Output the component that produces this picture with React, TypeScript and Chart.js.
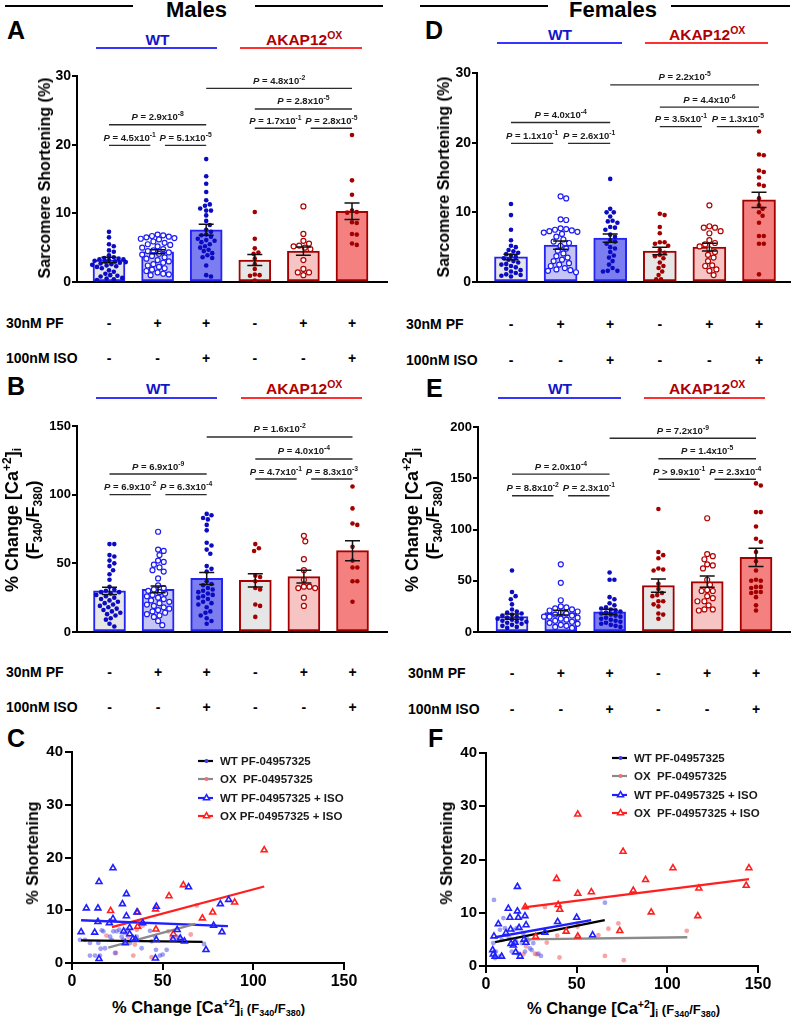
import React, { useEffect, useRef } from 'react';
import { Chart, registerables } from 'chart.js';

Chart.register(...registerables);

const FONT = "'Liberation Sans', Arial, Helvetica, sans-serif";
Chart.defaults.font.family = FONT;
Chart.defaults.color = '#000';

// ---------------- categories / treatment rows ----------------
const GROUPS = ['WT', 'WT PF', 'WT PF+ISO', 'OX', 'OX PF', 'OX PF+ISO'];
const PF_ROW = ['-', '+', '+', '-', '+', '+'];
const ISO_ROW = ['-', '-', '+', '-', '-', '+'];

// ---------------- Panel A: Males, sarcomere shortening (%) ----------------
const A_MEANS = [3.2, 4.4, 7.6, 3.2, 4.5, 10.3];
const A_SEMS = [0.4, 0.3, 0.8, 0.8, 0.6, 1.2];
const A_WT = [7.3, 6.5, 5.5, 5.2, 4.6, 4.4, 3.9, 3.6, 3.5, 3.4, 3.3, 3.3, 3.2, 3.1, 3.0, 3.0, 2.9, 2.8, 2.7, 2.6, 2.5, 2.4, 2.3, 2.2, 2.0, 1.7, 1.5, 1.2, 1.0, 0.9, 0.8, 0.6, 0.5, 0.4, 0.3];
const A_WT_PF = [6.9, 6.8, 6.7, 6.6, 6.5, 6.4, 6.3, 6.2, 5.9, 5.7, 5.5, 5.4, 5.2, 5.0, 4.8, 4.6, 4.5, 4.3, 4.1, 4.0, 3.8, 3.6, 3.4, 3.2, 3.0, 2.8, 2.6, 2.4, 2.2, 2.0, 1.8, 1.6, 1.4, 1.2, 1.1, 1.0];
const A_WT_ISO = [17.9, 15.4, 14.3, 13.1, 11.9, 11.3, 11.1, 10.7, 10.4, 10.4, 9.7, 8.9, 8.3, 7.6, 7.3, 6.9, 6.8, 6.6, 6.3, 6.1, 6.0, 5.8, 5.5, 5.2, 5.0, 4.7, 4.5, 4.2, 3.9, 3.6, 3.5, 2.4, 1.0, 0.8];
const A_OX = [10.2, 6.3, 4.9, 4.3, 4.1, 3.4, 2.6, 1.9, 1.1, 1.0, 0.9, 0.2];
const A_OX_PF = [11.0, 7.0, 6.0, 5.6, 5.3, 5.2, 5.0, 4.8, 3.2, 1.9, 1.4, 1.4, 1.0];
const A_OX_ISO = [21.4, 14.8, 12.7, 10.4, 10.2, 10.1, 8.7, 8.6, 7.0, 6.9, 5.6, 5.4];

// ---------------- Panel B: Males, % change [Ca2+]i ----------------
const B_MEANS = [29.9, 31.0, 39.0, 37.6, 40.3, 59.2];
const B_SEMS = [2.6, 2.5, 4.4, 4.8, 4.6, 7.3];
const B_WT = [64, 64, 56, 55, 52, 50, 48, 45, 42, 38, 33, 31, 30, 29, 29, 28, 27, 26, 25, 24, 23, 22, 21, 20, 19, 18, 17, 16, 15, 14, 13, 12, 10, 9, 6, 4];
const B_WT_PF = [73, 60, 59, 56, 52, 51, 49, 47, 45, 44, 39, 34, 32, 31, 30, 29, 28, 27, 26, 25, 24, 23, 22, 21, 20, 19, 18, 17, 16, 15, 14, 13, 12, 11, 8, 5];
const B_WT_ISO = [86, 85, 83, 82, 78, 74, 65, 63, 60, 57, 48, 46, 44, 37, 35, 34, 32, 31, 30, 29, 28, 27, 26, 25, 24, 22, 21, 20, 18, 15, 14, 12, 10, 8, 6];
const B_OX = [64, 61, 59, 41, 40, 37, 32, 31, 20, 19, 11];
const B_OX_PF = [70, 66, 53, 45, 38, 33, 33, 32, 32, 25, 19];
const B_OX_ISO = [106, 90, 79, 78, 62, 52, 47, 47, 37, 37, 22];

// ---------------- Panel D: Females, sarcomere shortening (%) ----------------
const D_MEANS = [3.6, 5.3, 6.3, 4.45, 5.0, 11.8];
const D_SEMS = [0.4, 0.6, 0.6, 0.55, 0.55, 1.1];
const D_WT = [11.2, 9.6, 7.5, 6.0, 5.2, 5.0, 4.6, 4.4, 4.2, 4.0, 3.8, 3.6, 3.4, 3.2, 3.0, 2.8, 2.6, 2.5, 2.3, 2.1, 1.9, 1.7, 1.5, 1.3, 1.1, 1.0, 0.9, 0.8];
const D_WT_PF = [12.3, 12.0, 9.0, 8.9, 7.7, 7.6, 7.5, 7.4, 7.3, 7.2, 7.1, 6.9, 6.5, 6.1, 5.8, 5.6, 5.2, 4.8, 4.5, 4.1, 3.7, 3.5, 3.2, 3.0, 2.7, 2.5, 2.3, 2.0, 1.8, 1.7, 1.6, 1.4];
const D_WT_ISO = [14.8, 10.5, 10.0, 10.0, 9.4, 8.8, 8.7, 8.5, 7.9, 7.8, 7.5, 6.8, 6.5, 6.0, 5.8, 5.5, 5.0, 4.8, 4.3, 3.8, 3.5, 3.0, 2.5, 2.0, 1.6, 1.6, 1.5];
const D_OX = [9.8, 9.6, 7.9, 7.0, 5.7, 5.7, 5.5, 5.2, 4.6, 4.2, 3.9, 3.7, 3.4, 2.8, 2.3, 2.0, 1.5, 1.0, 0.4, 0.4];
const D_OX_PF = [11.0, 8.0, 7.8, 7.8, 7.3, 7.0, 6.0, 5.6, 5.4, 5.1, 4.7, 4.3, 3.9, 3.5, 3.0, 2.4, 2.3, 1.8, 1.6, 1.0];
const D_OX_ISO = [21.6, 18.3, 18.2, 16.0, 15.8, 15.0, 14.0, 13.8, 12.0, 11.0, 10.5, 10.0, 9.5, 8.5, 6.6, 6.6, 5.5, 5.5, 1.1];

// ---------------- Panel E: Females, % change [Ca2+]i ----------------
const E_MEANS = [15.0, 18.9, 19.8, 45.2, 49.1, 72.8];
const E_SEMS = [2.6, 2.2, 2.5, 6.5, 5.5, 8.8];
const E_WT = [60, 39, 35, 32, 27, 22, 20, 19, 18, 17, 16, 15, 14, 13, 13, 12, 11, 10, 10, 9, 8, 7, 6, 5, 4];
const E_WT_PF = [66, 48, 31, 25, 24, 23, 22, 21, 20, 19, 18, 17, 16, 15, 15, 14, 13, 12, 11, 10, 9, 8, 7, 6, 5, 4];
const E_WT_ISO = [58, 51, 51, 34, 32, 28, 26, 24, 23, 22, 21, 20, 19, 18, 17, 16, 15, 14, 13, 12, 11, 10, 9, 8, 7, 6, 5];
const E_OX = [120, 78, 75, 72, 62, 61, 60, 47, 42, 38, 36, 35, 30, 30, 27, 25, 18, 17, 13];
const E_OX_PF = [111, 76, 74, 71, 66, 65, 62, 51, 46, 41, 40, 40, 35, 33, 30, 30, 26, 22, 22, 21];
const E_OX_ISO = [145, 143, 117, 117, 103, 91, 88, 78, 69, 60, 51, 50, 50, 44, 44, 43, 39, 39, 38, 34, 26, 21];

// ---------------- significance brackets ----------------
type Bracket = { from: number; to: number; y: number; op: string; mant: string; exp: string; trim?: 'L' | 'R' };
const A_BRACKETS: Bracket[] = [
  { from: 2, to: 5, y: 28.2, op: '=', mant: '4.8', exp: '-2' },
  { from: 3, to: 5, y: 25.2, op: '=', mant: '2.8', exp: '-5' },
  { from: 3, to: 4, y: 22.4, op: '=', mant: '1.7', exp: '-1', trim: 'R' },
  { from: 4, to: 5, y: 22.4, op: '=', mant: '2.8', exp: '-5', trim: 'L' },
  { from: 0, to: 2, y: 22.9, op: '=', mant: '2.9', exp: '-8' },
  { from: 0, to: 1, y: 19.9, op: '=', mant: '4.5', exp: '-1', trim: 'R' },
  { from: 1, to: 2, y: 19.9, op: '=', mant: '5.1', exp: '-5', trim: 'L' },
];
const B_BRACKETS: Bracket[] = [
  { from: 2, to: 5, y: 142, op: '=', mant: '1.6', exp: '-2' },
  { from: 3, to: 5, y: 126, op: '=', mant: '4.0', exp: '-4' },
  { from: 3, to: 4, y: 111.4, op: '=', mant: '4.7', exp: '-1', trim: 'R' },
  { from: 4, to: 5, y: 111.4, op: '=', mant: '8.3', exp: '-3', trim: 'L' },
  { from: 0, to: 2, y: 115, op: '=', mant: '6.9', exp: '-9' },
  { from: 0, to: 1, y: 100, op: '=', mant: '6.9', exp: '-2', trim: 'R' },
  { from: 1, to: 2, y: 100, op: '=', mant: '6.3', exp: '-4', trim: 'L' },
];
const D_BRACKETS: Bracket[] = [
  { from: 2, to: 5, y: 28.3, op: '=', mant: '2.2', exp: '-5' },
  { from: 3, to: 5, y: 25.1, op: '=', mant: '4.4', exp: '-6' },
  { from: 3, to: 4, y: 22.3, op: '=', mant: '3.5', exp: '-1', trim: 'R' },
  { from: 4, to: 5, y: 22.3, op: '=', mant: '1.3', exp: '-5', trim: 'L' },
  { from: 0, to: 2, y: 22.9, op: '=', mant: '4.0', exp: '-4' },
  { from: 0, to: 1, y: 19.9, op: '=', mant: '1.1', exp: '-1', trim: 'R' },
  { from: 1, to: 2, y: 19.9, op: '=', mant: '2.6', exp: '-1', trim: 'L' },
];
const E_BRACKETS: Bracket[] = [
  { from: 2, to: 5, y: 189, op: '=', mant: '7.2', exp: '-9' },
  { from: 3, to: 5, y: 169, op: '=', mant: '1.4', exp: '-5' },
  { from: 3, to: 4, y: 149, op: '>', mant: '9.9', exp: '-1', trim: 'R' },
  { from: 4, to: 5, y: 149, op: '=', mant: '2.3', exp: '-4', trim: 'L' },
  { from: 0, to: 2, y: 154, op: '=', mant: '2.0', exp: '-4' },
  { from: 0, to: 1, y: 133, op: '=', mant: '8.8', exp: '-2', trim: 'R' },
  { from: 1, to: 2, y: 133, op: '=', mant: '2.3', exp: '-1', trim: 'L' },
];

// ---------------- Panel C: Males, shortening vs Ca ----------------
type XY = [number, number];
const C_WT_PF: XY[] = [[4.4, 4.4], [7.2, 4.4], [9.9, 3.8], [9.9, 1.4], [12.7, 1.4], [15.4, 1.4], [15.8, 2.7], [14.5, 3.8], [16.4, 6.2], [17.3, 6.0], [18.2, 2.8], [21, 5.0], [21.9, 4.4], [22.8, 6.0], [23.7, 1.9], [24.6, 6.0], [26.1, 6.3], [27.4, 5.0], [28.3, 4.4], [29.2, 5.7], [30.5, 6.3], [32, 3.8], [34.7, 4.4], [35.7, 5.0], [38.4, 2.8], [43, 6.1], [43.9, 4.1], [45.8, 5.0], [46.3, 2.5], [48.5, 1.4], [50, 1.6], [52.2, 2.5], [57.7, 5.0], [59.6, 4.7], [72.8, 3.6]];
const C_OX_PF: XY[] = [[19, 5.2], [24.3, 1.9], [31, 5.0], [33.8, 1.4], [34.7, 3.5], [35.7, 6.3], [39, 7.1], [43.9, 1.1], [53.1, 6.0], [55, 4.7], [65.5, 5.4], [68.8, 10.9]];
const C_WT_ISO: XY[] = [[5, 5.9], [7.9, 10.4], [12.5, 5.8], [14.3, 10.4], [14.3, 7.8], [14.9, 15.4], [14.9, 0.8], [20.6, 7.6], [22.6, 18.0], [22.6, 8.4], [27.8, 11.2], [28.5, 6.0], [29.4, 3.8], [30, 13.1], [30, 8.9], [31.8, 6.7], [31.8, 5.5], [33.6, 4.6], [35, 4.5], [35.8, 9.6], [39, 7.6], [46.5, 10.7], [46.5, 4.4], [46, 0.9], [55.7, 4.5], [58, 6.3], [59.7, 4.7], [62, 4.1], [64.3, 14.4], [73.9, 2.5], [78.1, 7.1], [81.8, 11.2], [82.7, 5.9], [86.4, 12.0]];
const C_OX_ISO: XY[] = [[21.3, 9.9], [36.2, 9.6], [46.1, 10.2], [36.2, 6.9], [46.3, 6.4], [53.5, 12.7], [61.4, 14.8], [55.9, 5.5], [71.9, 8.5], [77.6, 9.6], [89.7, 11.5], [106, 21.4]];
const C_FIT_WT_PF: XY[] = [[5, 4.3], [72, 4.0]];
const C_FIT_OX_PF: XY[] = [[20, 2.9], [68, 7.4]];
const C_FIT_WT_ISO: XY[] = [[5, 8.1], [86, 7.0]];
const C_FIT_OX_ISO: XY[] = [[22, 6.8], [106, 14.5]];

// ---------------- Panel F: Females, shortening vs Ca ----------------
const F_WT_PF: XY[] = [[4.4, 12.4], [4, 4.3], [5, 1.5], [5.5, 2.7], [7.7, 6.8], [7.7, 1.8], [8.6, 4.9], [9.6, 9.0], [10.5, 7.1], [11.4, 5.8], [12.9, 5.2], [14.2, 2.7], [15.1, 6.8], [16.6, 4.6], [16.9, 7.1], [17.8, 2.3], [19.7, 4.3], [20.6, 6.1], [21.5, 2.7], [22.4, 5.2], [23.3, 4.8], [24.3, 3.3], [25.2, 3.0], [26.1, 4.3], [28.9, 2.3], [30.3, 1.9], [65.6, 11.9]];
const F_OX_PF: XY[] = [[20.6, 2.2], [22.1, 3.7], [27, 2.3], [28, 2.2], [32.5, 11.1], [33.5, 4.4], [39.3, 5.7], [40.5, 1.6], [50.4, 8.0], [50.4, 7.4], [51, 5.5], [62, 5.8], [65.6, 1.9], [67.5, 7.0], [73, 8.0], [76, 1.1], [110.7, 6.6]];
const F_WT_ISO: XY[] = [[4.4, 5.6], [3.7, 3.0], [4.0, 2.2], [5, 1.8], [6.8, 7.9], [8.6, 1.8], [11, 6.2], [12.3, 10.8], [13.2, 9.1], [13.6, 6.9], [13.8, 4.2], [15.1, 3.9], [16, 4.4], [16.4, 2.6], [17.3, 14.9], [17.3, 10.3], [17.8, 9.1], [18.2, 7.2], [18.8, 1.8], [21, 5.0], [21.5, 9.4], [22.1, 7.7], [22.1, 4.4], [32.5, 6.3], [39.5, 8.3], [50, 9.1], [58.8, 5.8]];
const F_OX_ISO: XY[] = [[21.6, 11.1], [27.4, 5.5], [38.9, 16.4], [39.8, 11.5], [40.7, 10.6], [44.2, 6.5], [50.6, 28.5], [50.6, 13.6], [50.6, 5.6], [58.1, 13.9], [73.8, 6.6], [75.6, 21.5], [81.2, 14.2], [88, 16.2], [91.1, 10.1], [103.1, 18.4], [116.8, 9.4], [117.4, 14.6], [143.5, 15.1], [145, 18.4]];
const F_FIT_WT_PF: XY[] = [[5, 4.5], [65.5, 8.6]];
const F_FIT_OX_PF: XY[] = [[21, 5.0], [111, 5.4]];
const F_FIT_WT_ISO: XY[] = [[5, 5.4], [58, 8.6]];
const F_FIT_OX_ISO: XY[] = [[21, 11.0], [145, 16.3]];

const C_LEGEND = ['WT PF-04957325', 'OX  PF-04957325', 'WT PF-04957325 + ISO', 'OX PF-04957325 + ISO'];
const F_LEGEND = ['WT PF-04957325', 'OX  PF-04957325', 'WT PF-04957325 + ISO', 'OX  PF-04957325 + ISO'];

// ---------------- styles ----------------
const BAR_FILL = ['#e6e6e6', '#c4c4f7', '#7c7df0', '#e6e6e6', '#f7c4c4', '#f58080'];
const BAR_EDGE = ['#2323f2', '#2323f2', '#2323f2', '#a40000', '#a40000', '#a40000'];
const PT_COLOR = ['#0b0bc2', '#1c1cf2', '#0b0bc2', '#a40000', '#b20000', '#a40000'];
const PT_OPEN = [false, true, false, false, true, false];

type Geom = { l: number; t: number; r: number; b: number; x0: number; dx: number };
const GEO_A: Geom = { l: 77, t: 76, r: 387, b: 282, x0: 109, dx: 48.6 };
const GEO_B: Geom = { l: 77, t: 426, r: 387, b: 632, x0: 109.5, dx: 48.6 };
const GEO_D: Geom = { l: 477, t: 73, r: 790, b: 282, x0: 511, dx: 49.6 };
const GEO_E: Geom = { l: 478, t: 427, r: 790, b: 632, x0: 512, dx: 48.8 };
const Y_AXIS_W = 40;
const PAD_TOP = 12;
const PAD_RIGHT = 6;
const X_AXIS_H = 10;

function swarmOffsets(vals: number[], pxY: number, d: number, maxHalf: number): number[] {
  const order = vals.map((_, i) => i).sort((a, b) => vals[b] - vals[a]);
  const placed: { x: number; y: number }[] = [];
  const out = new Array(vals.length).fill(0);
  const step = d / 4;
  const kMax = Math.floor(maxHalf / step) * 2;
  for (const i of order) {
    const py = vals[i] * pxY;
    let chosen: number | null = null;
    let bestOff = 0;
    let bestDist = -1;
    for (let k = 0; k <= kMax; k++) {
      const m = Math.ceil(k / 2);
      const off = (k % 2 === 1 ? 1 : -1) * m * step;
      let minD = Infinity;
      for (const p of placed) {
        const dd = Math.hypot(p.x - off, p.y - py);
        if (dd < minD) minD = dd;
      }
      if (minD >= d) { chosen = off; break; }
      if (minD > bestDist) { bestDist = minD; bestOff = off; }
    }
    const o = chosen === null ? bestOff : chosen;
    placed.push({ x: o, y: py });
    out[i] = o;
  }
  return out;
}

function drawP(ctx: CanvasRenderingContext2D, cx: number, baseY: number, op: string, mant: string, exp: string, size: number) {
  const fIt = `italic bold ${size}px ${FONT}`;
  const fMain = `bold ${size}px ${FONT}`;
  const fSup = `bold ${(size * 0.72).toFixed(1)}px ${FONT}`;
  const s1 = 'P';
  const s2 = ` ${op} ${mant}x10`;
  ctx.font = fIt; const w1 = ctx.measureText(s1).width;
  ctx.font = fMain; const w2 = ctx.measureText(s2).width;
  ctx.font = fSup; const w3 = ctx.measureText(exp).width;
  let x = cx - (w1 + w2 + w3) / 2;
  ctx.textAlign = 'left';
  ctx.textBaseline = 'alphabetic';
  ctx.fillStyle = '#1a1a1a';
  ctx.font = fIt; ctx.fillText(s1, x, baseY); x += w1;
  ctx.font = fMain; ctx.fillText(s2, x, baseY); x += w2;
  ctx.font = fSup; ctx.fillText(exp, x, baseY - size * 0.42);
}

type BarPanel = { geo: Geom; yMax: number; yStep: number; tick: number; barW: number; means: number[]; sems: number[]; groups: number[][]; brackets: Bracket[] };

function barConfig(p: BarPanel): any {
  const { l, t, r, b, x0, dx } = p.geo;
  const xMin = (l - x0) / dx;
  const xMax = (r - x0) / dx;
  const pxY = (b - t) / p.yMax;
  const datasets: any[] = [
    {
      type: 'bar', label: 'mean',
      data: p.means.map((m, i) => ({ x: i, y: m })),
      backgroundColor: BAR_FILL, borderColor: BAR_EDGE, borderWidth: 2, borderSkipped: false,
      barThickness: p.barW, order: 10,
    },
  ];
  p.groups.forEach((g, gi) => {
    const open = PT_OPEN[gi];
    const d = open ? 5.6 : 4.8;
    const offs = swarmOffsets(g, pxY, d, p.barW / 2 + 1);
    datasets.push({
      type: 'scatter', label: GROUPS[gi],
      data: g.map((v, k) => ({ x: gi + offs[k] / dx, y: v })),
      pointRadius: open ? 2.5 : 2.3,
      pointBorderWidth: open ? 1.2 : 0,
      pointBorderColor: PT_COLOR[gi],
      pointBackgroundColor: open ? '#ffffff' : PT_COLOR[gi],
      order: 5,
    });
  });
  const plugin = {
    id: 'errBrackets',
    afterDatasetsDraw(chart: any) {
      const { ctx } = chart;
      const xs = chart.scales.x;
      const ys = chart.scales.y;
      ctx.save();
      ctx.strokeStyle = '#111';
      ctx.lineWidth = 1.5;
      p.means.forEach((m, i) => {
        const px = xs.getPixelForValue(i);
        const top = ys.getPixelForValue(m + p.sems[i]);
        const bot = ys.getPixelForValue(m - p.sems[i]);
        ctx.beginPath();
        ctx.moveTo(px, top); ctx.lineTo(px, bot);
        ctx.moveTo(px - 7.5, top); ctx.lineTo(px + 7.5, top);
        ctx.moveTo(px - 7.5, bot); ctx.lineTo(px + 7.5, bot);
        ctx.stroke();
      });
      p.brackets.forEach((br) => {
        let a = br.from, c = br.to;
        if (br.trim === 'R') c -= 0.15;
        if (br.trim === 'L') a += 0.15;
        const p1 = xs.getPixelForValue(a);
        const p2 = xs.getPixelForValue(c);
        const py = ys.getPixelForValue(br.y);
        ctx.strokeStyle = '#2b2b2b';
        ctx.lineWidth = 1.4;
        ctx.beginPath(); ctx.moveTo(p1, py); ctx.lineTo(p2, py); ctx.stroke();
        drawP(ctx, (p1 + p2) / 2, py - 4.5, br.op, br.mant, br.exp, 9.5);
      });
      ctx.restore();
    },
  };
  return {
    type: 'bar',
    data: { datasets },
    plugins: [plugin],
    options: {
      responsive: false, animation: false, events: [],
      layout: { padding: { left: 0, top: PAD_TOP, right: PAD_RIGHT, bottom: 0 } },
      plugins: { legend: { display: false }, tooltip: { enabled: false } },
      scales: {
        x: {
          type: 'linear', min: xMin, max: xMax, offset: false,
          ticks: { display: false },
          grid: { display: false, offset: false },
          border: { display: true, color: '#000', width: 2 },
          afterFit: (s: any) => { s.height = X_AXIS_H; },
        },
        y: {
          type: 'linear', min: 0, max: p.yMax,
          ticks: { stepSize: p.yStep, padding: 1, color: '#000', font: { size: p.tick, weight: 'bold', family: FONT } },
          grid: { display: true, drawOnChartArea: false, drawTicks: true, tickLength: 5, color: '#000', lineWidth: 2 },
          border: { display: true, color: '#000', width: 2 },
          afterFit: (s: any) => { s.width = Y_AXIS_W; },
        },
      },
    },
  };
}

type SGeom = { l: number; t: number; r: number; b: number };
const GEO_C: SGeom = { l: 72, t: 752, r: 344, b: 963 };
const GEO_F: SGeom = { l: 486, t: 753, r: 758, b: 966 };
const S_PAD_RIGHT = 22;
const S_X_AXIS_H = 30;

type ScatterPanel = {
  wtPf: XY[]; oxPf: XY[]; wtIso: XY[]; oxIso: XY[];
  fitWtPf: XY[]; fitOxPf: XY[]; fitWtIso: XY[]; fitOxIso: XY[];
  legend: string[]; legendRows: number[];
};

const toXY = (a: XY[]) => a.map(([x, y]) => ({ x, y }));

function scatterConfig(p: ScatterPanel): any {
  const lineDs = (d: XY[], color: string) => ({
    type: 'scatter', data: toXY(d), showLine: true, borderColor: color, borderWidth: 2.3,
    pointRadius: 0, fill: false, order: 1,
  });
  const legendStyle = [
    { line: '#000000', mark: 'dot', mc: '#3a3ae8' },
    { line: '#8a8a8a', mark: 'dot', mc: '#f07070' },
    { line: '#1f1fff', mark: 'tri', mc: '#1f1fff' },
    { line: '#ff1f1f', mark: 'tri', mc: '#ff1f1f' },
  ];
  const plugin = {
    id: 'lg',
    afterDatasetsDraw(chart: any) {
      const { ctx, chartArea } = chart;
      ctx.save();
      p.legend.forEach((label, k) => {
        const st = legendStyle[k];
        const yy = chartArea.top + p.legendRows[k];
        const x0 = chartArea.left + 126;
        ctx.strokeStyle = st.line;
        ctx.lineWidth = 2.2;
        ctx.beginPath(); ctx.moveTo(x0, yy); ctx.lineTo(x0 + 15, yy); ctx.stroke();
        const mx = x0 + 8.5;
        if (st.mark === 'dot') {
          ctx.fillStyle = st.mc;
          ctx.beginPath(); ctx.arc(mx, yy, 2, 0, Math.PI * 2); ctx.fill();
        } else {
          ctx.strokeStyle = st.mc; ctx.fillStyle = '#fff'; ctx.lineWidth = 1.5;
          ctx.beginPath(); ctx.moveTo(mx, yy - 3.4); ctx.lineTo(mx - 3, yy + 1.8); ctx.lineTo(mx + 3, yy + 1.8); ctx.closePath();
          ctx.fill(); ctx.stroke();
        }
        ctx.fillStyle = '#1a1a1a';
        ctx.font = `bold 11.5px ${FONT}`;
        ctx.textAlign = 'left';
        ctx.textBaseline = 'middle';
        ctx.fillText(label, chartArea.left + 148, yy + 0.5);
      });
      ctx.restore();
    },
  };
  const tri = (d: XY[], color: string) => ({
    type: 'scatter', data: toXY(d), pointStyle: 'triangle', pointRadius: 3.4, pointBorderWidth: 1.6,
    pointBorderColor: color, pointBackgroundColor: 'rgba(255,255,255,0)', order: 0,
  });
  const dots = (d: XY[], color: string) => ({
    type: 'scatter', data: toXY(d), pointRadius: 2.4, pointBorderWidth: 0,
    pointBackgroundColor: color, order: 2,
  });
  const axisCommon = {
    type: 'linear',
    grid: { display: true, drawOnChartArea: false, drawTicks: true, tickLength: 7, color: '#000', lineWidth: 2 },
    border: { display: true, color: '#000', width: 2 },
  };
  return {
    type: 'scatter',
    data: {
      datasets: [
        tri(p.wtIso, '#1f1fff'),
        tri(p.oxIso, '#ff1f1f'),
        lineDs(p.fitWtPf, '#000000'),
        lineDs(p.fitOxPf, '#8a8a8a'),
        lineDs(p.fitWtIso, '#1f1fff'),
        lineDs(p.fitOxIso, '#ff1f1f'),
        dots(p.wtPf, 'rgba(70,70,235,0.5)'),
        dots(p.oxPf, 'rgba(240,90,90,0.55)'),
      ],
    },
    plugins: [plugin],
    options: {
      responsive: false, animation: false, events: [],
      layout: { padding: { left: 0, top: PAD_TOP, right: S_PAD_RIGHT, bottom: 0 } },
      plugins: { legend: { display: false }, tooltip: { enabled: false } },
      scales: {
        x: {
          ...axisCommon, min: 0, max: 150,
          ticks: { stepSize: 50, padding: 2, color: '#000', font: { size: 16, weight: 'bold', family: FONT } },
          afterFit: (s: any) => { s.height = S_X_AXIS_H; },
        },
        y: {
          ...axisCommon, min: 0, max: 40,
          ticks: { stepSize: 10, padding: 2, color: '#000', font: { size: 15, weight: 'bold', family: FONT } },
          afterFit: (s: any) => { s.width = Y_AXIS_W; },
        },
      },
    },
  };
}

function ChartCanvas({ left, top, width, height, make }: { left: number; top: number; width: number; height: number; make: () => any }) {
  const ref = useRef<HTMLCanvasElement>(null);
  useEffect(() => {
    const chart = new Chart(ref.current as HTMLCanvasElement, make());
    return () => chart.destroy();
  }, []);
  return <canvas ref={ref} width={width} height={height} style={{ position: 'absolute', left, top, width, height }} />;
}

function BarCanvas({ panel }: { panel: BarPanel }) {
  const g = panel.geo;
  const left = g.l - Y_AXIS_W;
  const top = g.t - PAD_TOP;
  const width = g.r - g.l + Y_AXIS_W + PAD_RIGHT;
  const height = g.b - g.t + PAD_TOP + X_AXIS_H;
  return <ChartCanvas left={left} top={top} width={width} height={height} make={() => barConfig(panel)} />;
}

function ScatterCanvas({ geo, panel }: { geo: SGeom; panel: ScatterPanel }) {
  const left = geo.l - Y_AXIS_W;
  const top = geo.t - PAD_TOP;
  const width = geo.r - geo.l + Y_AXIS_W + S_PAD_RIGHT;
  const height = geo.b - geo.t + PAD_TOP + S_X_AXIS_H;
  return <ChartCanvas left={left} top={top} width={width} height={height} make={() => scatterConfig(panel)} />;
}

// ---------------- HTML text helpers ----------------
function T({ x, y, size, color = '#000', align = 'left', weight = 700, children }: { x: number; y: number; size: number; color?: string; align?: 'left' | 'center' | 'right'; weight?: number; children: React.ReactNode }) {
  const tx = align === 'center' ? '-50%' : align === 'right' ? '-100%' : '0';
  return (
    <div style={{ position: 'absolute', left: x, top: y - 0.8465 * size, fontSize: size, lineHeight: `${size}px`, fontWeight: weight, color, whiteSpace: 'pre', transform: `translateX(${tx})` }}>
      {children}
    </div>
  );
}
function Sup({ size, raise, children }: { size: number; raise: number; children: React.ReactNode }) {
  return <span style={{ fontSize: size, position: 'relative', top: -raise, lineHeight: 0 }}>{children}</span>;
}
function Sub({ size, drop, children }: { size: number; drop: number; children: React.ReactNode }) {
  return <span style={{ fontSize: size, position: 'relative', top: drop, lineHeight: 0 }}>{children}</span>;
}
function HL({ x, y, w, h = 2, color }: { x: number; y: number; w: number; h?: number; color: string }) {
  return <div style={{ position: 'absolute', left: x, top: y, width: w, height: h, background: color }} />;
}
function RT({ cx, cy, size, lh, children }: { cx: number; cy: number; size: number; lh?: number; children: React.ReactNode }) {
  return (
    <div style={{ position: 'absolute', left: cx, top: cy, transform: 'translate(-50%, -50%) rotate(-90deg)', fontSize: size, fontWeight: 700, lineHeight: `${lh || size}px`, whiteSpace: 'pre', textAlign: 'center' }}>
      {children}
    </div>
  );
}

const WT_TXT = '#1515c8';
const WT_LINE = '#3535ff';
const OX_TXT = '#b00000';
const OX_LINE = '#ff3030';

function GroupHeader({ wtX, oxX, base, lineY, wtLine, oxLine }: { wtX: number; oxX: number; base: number; lineY: number; wtLine: [number, number]; oxLine: [number, number] }) {
  return (
    <>
      <T x={wtX} y={base} size={15.5} color={WT_TXT} align="center">WT</T>
      <T x={oxX} y={base} size={15.5} color={OX_TXT}>AKAP12<Sup size={10.5} raise={6}>OX</Sup></T>
      <HL x={wtLine[0]} y={lineY} w={wtLine[1] - wtLine[0]} color={WT_LINE} />
      <HL x={oxLine[0]} y={lineY} w={oxLine[1] - oxLine[0]} color={OX_LINE} />
    </>
  );
}

function TreatRows({ labelX, geo, pfY, isoY }: { labelX: number; geo: Geom; pfY: number; isoY: number }) {
  return (
    <>
      <T x={labelX} y={pfY + 5} size={14}>30nM PF</T>
      <T x={labelX} y={isoY + 5} size={14}>100nM ISO</T>
      {PF_ROW.map((s, i) => (
        <T key={'p' + i} x={geo.x0 + geo.dx * i} y={pfY + 5} size={14} align="center">{s}</T>
      ))}
      {ISO_ROW.map((s, i) => (
        <T key={'i' + i} x={geo.x0 + geo.dx * i} y={isoY + 5} size={14} align="center">{s}</T>
      ))}
    </>
  );
}

function CaTitle2() {
  return (
    <>
      <div>% Change [Ca<Sup size={12} raise={7}>+2</Sup>]<Sub size={12} drop={3}>i</Sub></div>
      <div>(F<Sub size={12} drop={3}>340</Sub>/F<Sub size={12} drop={3}>380</Sub>)</div>
    </>
  );
}

function CaTitleX({ cx, base }: { cx: number; base: number }) {
  return (
    <T x={cx} y={base} size={16.5} align="center">
      % Change [Ca<Sup size={10.5} raise={6}>+2</Sup>]<Sub size={10.5} drop={3}>i</Sub>
      <span style={{ fontSize: 13 }}> (F<Sub size={9} drop={2.5}>340</Sub>/F<Sub size={9} drop={2.5}>380</Sub>)</span>
    </T>
  );
}

const PANEL_A: BarPanel = { geo: GEO_A, yMax: 30, yStep: 10, tick: 14, barW: 32, means: A_MEANS, sems: A_SEMS, groups: [A_WT, A_WT_PF, A_WT_ISO, A_OX, A_OX_PF, A_OX_ISO], brackets: A_BRACKETS };
const PANEL_B: BarPanel = { geo: GEO_B, yMax: 150, yStep: 50, tick: 13, barW: 32, means: B_MEANS, sems: B_SEMS, groups: [B_WT, B_WT_PF, B_WT_ISO, B_OX, B_OX_PF, B_OX_ISO], brackets: B_BRACKETS };
const PANEL_D: BarPanel = { geo: GEO_D, yMax: 30, yStep: 10, tick: 14, barW: 33, means: D_MEANS, sems: D_SEMS, groups: [D_WT, D_WT_PF, D_WT_ISO, D_OX, D_OX_PF, D_OX_ISO], brackets: D_BRACKETS };
const PANEL_E: BarPanel = { geo: GEO_E, yMax: 200, yStep: 50, tick: 13, barW: 32, means: E_MEANS, sems: E_SEMS, groups: [E_WT, E_WT_PF, E_WT_ISO, E_OX, E_OX_PF, E_OX_ISO], brackets: E_BRACKETS };
const PANEL_C: ScatterPanel = { wtPf: C_WT_PF, oxPf: C_OX_PF, wtIso: C_WT_ISO, oxIso: C_OX_ISO, fitWtPf: C_FIT_WT_PF, fitOxPf: C_FIT_OX_PF, fitWtIso: C_FIT_WT_ISO, fitOxIso: C_FIT_OX_ISO, legend: C_LEGEND, legendRows: [9, 27, 46, 64] };
const PANEL_F: ScatterPanel = { wtPf: F_WT_PF, oxPf: F_OX_PF, wtIso: F_WT_ISO, oxIso: F_OX_ISO, fitWtPf: F_FIT_WT_PF, fitOxPf: F_FIT_OX_PF, fitWtIso: F_FIT_WT_ISO, fitOxIso: F_FIT_OX_ISO, legend: F_LEGEND, legendRows: [5, 23, 42, 60] };

export default function App() {
  return (
    <div style={{ position: 'absolute', left: 0, top: 0, width: 800, height: 1017, background: '#fff', overflow: 'hidden', fontFamily: FONT, color: '#000' }}>
      <BarCanvas panel={PANEL_A} />
      <BarCanvas panel={PANEL_B} />
      <BarCanvas panel={PANEL_D} />
      <BarCanvas panel={PANEL_E} />
      <ScatterCanvas geo={GEO_C} panel={PANEL_C} />
      <ScatterCanvas geo={GEO_F} panel={PANEL_F} />

      {/* top titles */}
      <HL x={5} y={5} w={128} h={2.4} color="#000" />
      <HL x={255} y={5} w={128} h={2.4} color="#000" />
      <HL x={420} y={5} w={128} h={2.4} color="#000" />
      <HL x={671} y={5} w={119} h={2.4} color="#000" />
      <T x={196.5} y={17.5} size={22} align="center">Males</T>
      <T x={613} y={17.5} size={22} align="center">Females</T>

      {/* panel letters */}
      <T x={7} y={39} size={25}>A</T>
      <T x={425} y={39} size={25}>D</T>
      <T x={7} y={395} size={25}>B</T>
      <T x={426} y={397} size={25}>E</T>
      <T x={7} y={747} size={25}>C</T>
      <T x={428} y={747} size={25}>F</T>

      {/* group headers */}
      <GroupHeader wtX={157.5} oxX={266} base={45} lineY={47} wtLine={[96, 217]} oxLine={[240, 362]} />
      <GroupHeader wtX={560} oxX={669} base={40.5} lineY={42.3} wtLine={[497, 622]} oxLine={[645, 768]} />
      <GroupHeader wtX={158} oxX={266} base={394} lineY={397} wtLine={[96, 217]} oxLine={[241, 362]} />
      <GroupHeader wtX={560} oxX={669} base={394} lineY={397} wtLine={[498, 621]} oxLine={[644, 765]} />

      {/* treatment rows */}
      <TreatRows labelX={6} geo={GEO_A} pfY={322.5} isoY={358} />
      <TreatRows labelX={406} geo={GEO_D} pfY={324} isoY={360} />
      <TreatRows labelX={6} geo={GEO_B} pfY={672} isoY={707} />
      <TreatRows labelX={408} geo={GEO_E} pfY={673} isoY={709} />

      {/* axis titles */}
      <RT cx={44.5} cy={178} size={16}>Sarcomere Shortening (%)</RT>
      <RT cx={444} cy={177} size={16}>Sarcomere Shortening (%)</RT>
      <RT cx={22.5} cy={520} size={18} lh={21}><CaTitle2 /></RT>
      <RT cx={422.5} cy={520} size={18} lh={21}><CaTitle2 /></RT>
      <RT cx={33} cy={853} size={16}>% Shortening</RT>
      <RT cx={447} cy={853} size={16}>% Shortening</RT>
      <CaTitleX cx={208.5} base={1013} />
      <CaTitleX cx={623.5} base={1014} />
    </div>
  );
}
